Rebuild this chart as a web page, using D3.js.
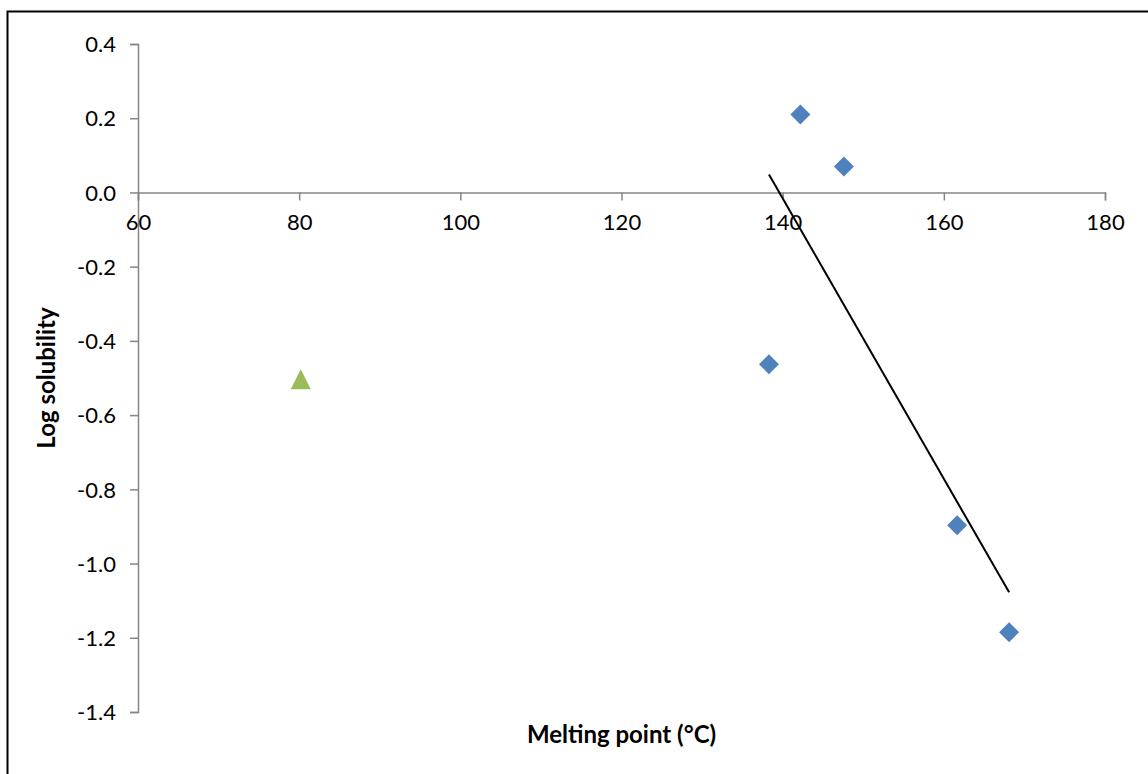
<!DOCTYPE html>
<html>
<head>
<meta charset="utf-8">
<script src="https://cdn.jsdelivr.net/npm/d3@7"></script>
<style>
  body { margin: 0; background: #fff; }
  text { font-family: Lato, "Open Sans", sans-serif; fill: #000; }
</style>
</head>
<body>
<div id="chart"></div>
<script>
var svgWidth = 1148;
var svgHeight = 774;

// data
var diamondX = [142.2, 147.6, 138.3, 161.65, 168.1];
var diamondY = [0.21, 0.07, -0.463, -0.897, -1.185];
var triangleX = [80.2];
var triangleY = [-0.506];
var xTicks = [60, 80, 100, 120, 140, 160, 180];
var yTicks = [0.4, 0.2, 0.0, -0.2, -0.4, -0.6, -0.8, -1.0, -1.2, -1.4];

var margin = { top: 44, right: 43, bottom: 62, left: 138 };
var width = svgWidth - margin.left - margin.right;
var height = svgHeight - margin.top - margin.bottom;

var svg = d3.select("#chart")
    .append("svg")
    .attr("width", svgWidth)
    .attr("height", svgHeight);

// frame (only top and left visible)
svg.append("rect")
    .attr("x", 7.5)
    .attr("y", 11.5)
    .attr("width", 1160)
    .attr("height", 800)
    .attr("fill", "none")
    .attr("stroke", "#000")
    .attr("stroke-width", 2);

var chartGroup = svg.append("g")
    .attr("transform", `translate(${margin.left}, ${margin.top})`);

var xScale = d3.scaleLinear().domain([60, 180]).range([0, width]);
var yScale = d3.scaleLinear().domain([-1.4, 0.4]).range([height, 0]);

// y axis
var fmt = d3.format(".1f");
var leftAxis = d3.axisLeft(yScale)
    .tickValues(yTicks)
    .tickSize(8)
    .tickPadding(14)
    .tickFormat(d => fmt(d).replace("\u2212", "-"));
var yAxisG = chartGroup.append("g").call(leftAxis);
yAxisG.select(".domain").attr("d", `M-8,0.5H0.5V${height + 0.5}H-8`);

// x axis sits at y = 0
var bottomAxis = d3.axisBottom(xScale)
    .tickValues(xTicks)
    .tickSize(8)
    .tickPadding(14);
var xAxisG = chartGroup.append("g")
    .attr("transform", `translate(0, ${yScale(0)})`)
    .call(bottomAxis);

chartGroup.selectAll(".domain, .tick line")
    .attr("stroke", "#868686")
    .attr("stroke-width", 1.5);
chartGroup.selectAll(".tick text")
    .attr("font-size", 22)
    .attr("fill", "#000")
    .style("font-family", "Lato, 'Open Sans', sans-serif");
yAxisG.selectAll(".tick text").attr("dy", "0.35em");

// trendline: least squares over the diamonds
var mx = d3.mean(diamondX), my = d3.mean(diamondY);
var sxy = d3.sum(diamondX, (x, i) => (x - mx) * (diamondY[i] - my));
var sxx = d3.sum(diamondX, x => (x - mx) * (x - mx));
var slope = sxy / sxx;
var intercept = my - slope * mx;
var xExt = d3.extent(diamondX);

chartGroup.append("line")
    .attr("x1", xScale(xExt[0]))
    .attr("y1", yScale(slope * xExt[0] + intercept))
    .attr("x2", xScale(xExt[1]))
    .attr("y2", yScale(slope * xExt[1] + intercept))
    .attr("stroke", "#000")
    .attr("stroke-width", 2);

// diamonds
var diamondData = diamondX.map((x, i) => ({ x: x, y: diamondY[i] }));
chartGroup.selectAll(".diamond")
    .data(diamondData)
    .enter()
    .append("path")
    .attr("class", "diamond")
    .attr("d", "M0,-10L10,0L0,10L-10,0Z")
    .attr("transform", d => `translate(${xScale(d.x)}, ${yScale(d.y)})`)
    .attr("fill", "#4F81BD");

// triangle
var triangleData = triangleX.map((x, i) => ({ x: x, y: triangleY[i] }));
chartGroup.selectAll(".triangle")
    .data(triangleData)
    .enter()
    .append("path")
    .attr("class", "triangle")
    .attr("d", "M0,-10L10,10L-10,10Z")
    .attr("transform", d => `translate(${xScale(d.x)}, ${yScale(d.y) - 1})`)
    .attr("fill", "#9BBB59");

// axis labels
svg.append("text")
    .attr("transform", `translate(55, ${margin.top + height / 2}) rotate(-90)`)
    .attr("text-anchor", "middle")
    .attr("font-size", 24)
    .attr("font-weight", "bold")
    .text("Log solubility");

svg.append("text")
    .attr("x", margin.left + width / 2)
    .attr("y", 743)
    .attr("text-anchor", "middle")
    .attr("font-size", 24)
    .attr("font-weight", "bold")
    .text("Melting point (°C)");
</script>
</body>
</html>
